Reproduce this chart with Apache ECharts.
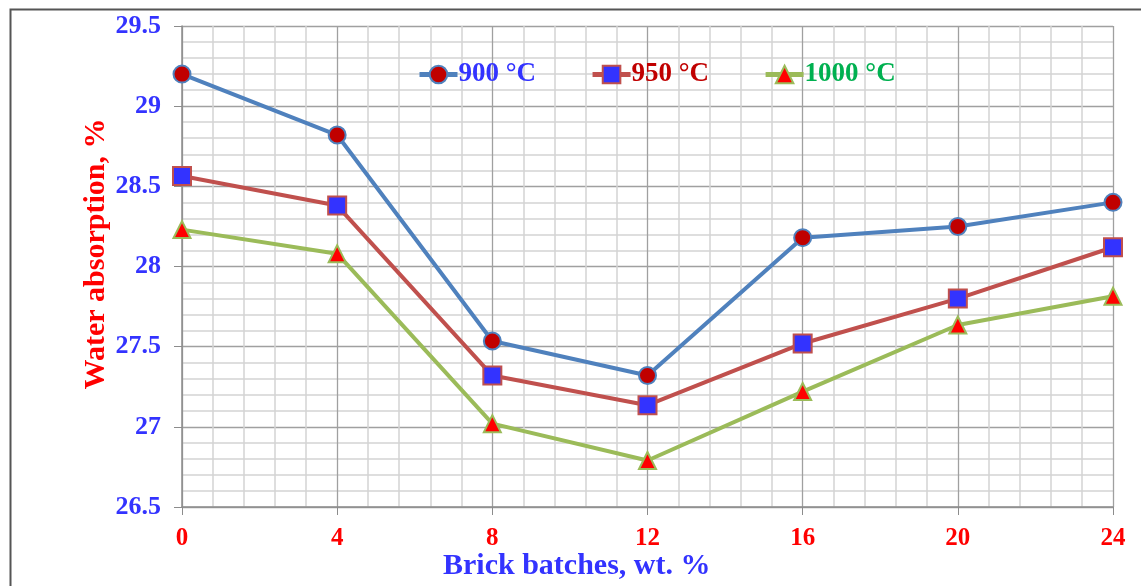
<!DOCTYPE html>
<html>
<head>
<meta charset="utf-8">
<script src="https://cdn.jsdelivr.net/npm/echarts@6/dist/echarts.min.js"></script>
<style>
  html, body { margin: 0; padding: 0; background: #fff; }
  #chart { width: 1141px; height: 586px; }
</style>
</head>
<body>
<div id="chart"></div>
<script>
// brick batches, wt. %
const batches = [0, 4, 8, 12, 16, 20, 24];
// water absorption, %
const t900 = [29.20, 28.82, 27.535, 27.32, 28.18, 28.25, 28.40];
const t950 = [28.565, 28.38, 27.32, 27.135, 27.52, 27.80, 28.12];
const t1000 = [28.23, 28.08, 27.02, 26.79, 27.22, 27.635, 27.815];
const seriesNames = ['900 °C', '950 °C', '1000 °C'];

const serif = 'Liberation Serif, Times New Roman, serif';

const chart = echarts.init(document.getElementById('chart'));

function pairs(vals) {
  return batches.map((b, i) => [b, vals[i]]);
}

let option = {
  backgroundColor: '#fff',
  animation: false,
  grid: { left: 182, right: 28, top: 26, bottom: 79 },
  legend: {
    left: 412,
    top: 56,
    itemWidth: 38,
    itemHeight: 22,
    itemGap: 54,
    lineStyle: { width: 5 },
    textStyle: { fontFamily: serif, fontWeight: 'bold', fontSize: 27, padding: [0, 0, 0, -4] },
    data: [
      { name: seriesNames[0], textStyle: { color: '#3333ff' } },
      { name: seriesNames[1], textStyle: { color: '#c00000' } },
      { name: seriesNames[2], textStyle: { color: '#00b050' } }
    ]
  },
  xAxis: {
    type: 'value',
    min: 0,
    max: 24,
    interval: 4,
    axisLine: { show: true, lineStyle: { color: '#8c8c8c', width: 1.5 } },
    axisTick: { show: true, length: 8, lineStyle: { color: '#8c8c8c' } },
    axisLabel: { color: '#ff0000', fontFamily: serif, fontWeight: 'bold', fontSize: 25, margin: 19 },
    splitLine: { show: true, lineStyle: { color: '#a0a0a0', width: 1.3 } },
    minorTick: { show: false, splitNumber: 5 },
    minorSplitLine: { show: true, lineStyle: { color: '#d4d4d4', width: 1.5 } }
  },
  yAxis: {
    type: 'value',
    min: 26.5,
    max: 29.5,
    interval: 0.5,
    axisLine: { show: true, lineStyle: { color: '#8c8c8c', width: 1.5 } },
    axisTick: { show: true, length: 8, lineStyle: { color: '#8c8c8c' } },
    axisLabel: { color: '#3333ff', fontFamily: serif, fontWeight: 'bold', fontSize: 26, margin: 21 },
    splitLine: { show: true, lineStyle: { color: '#a0a0a0', width: 1.3 } },
    minorTick: { show: false, splitNumber: 5 },
    minorSplitLine: { show: true, lineStyle: { color: '#d4d4d4', width: 1.5 } }
  },
  graphic: [
    // outer frame (left and top edges visible)
    { type: 'rect', left: 8, top: 7, shape: { width: 1200, height: 700 },
      style: { fill: 'none', stroke: '#555', lineWidth: 2 }, silent: true },
    { type: 'text', left: 443, top: 551,
      style: { text: 'Brick batches, wt. %', fill: '#3333ff', font: 'bold 30px ' + serif } },
    { type: 'text', x: 96, y: 254, rotation: Math.PI / 2,
      style: { text: 'Water absorption, %', fill: '#ff0000', font: 'bold 30px ' + serif,
               align: 'center', verticalAlign: 'middle' } }
  ],
  series: [
    {
      name: seriesNames[0], type: 'line', data: pairs(t900),
      symbol: 'circle', symbolSize: 17,
      lineStyle: { color: '#4f81bd', width: 4 },
      itemStyle: { color: '#c00000', borderColor: '#4f81bd', borderWidth: 2 },
      z: 4
    },
    {
      name: seriesNames[1], type: 'line', data: pairs(t950),
      symbol: 'rect', symbolSize: 18,
      lineStyle: { color: '#c0504d', width: 4 },
      itemStyle: { color: '#3333ff', borderColor: '#c0504d', borderWidth: 2 },
      z: 3
    },
    {
      name: seriesNames[2], type: 'line', data: pairs(t1000),
      symbol: 'triangle', symbolSize: 17,
      lineStyle: { color: '#9bbb59', width: 4 },
      itemStyle: { color: '#ff0000', borderColor: '#9bbb59', borderWidth: 2 },
      z: 2
    }
  ]
};

chart.setOption(option);
</script>
</body>
</html>
